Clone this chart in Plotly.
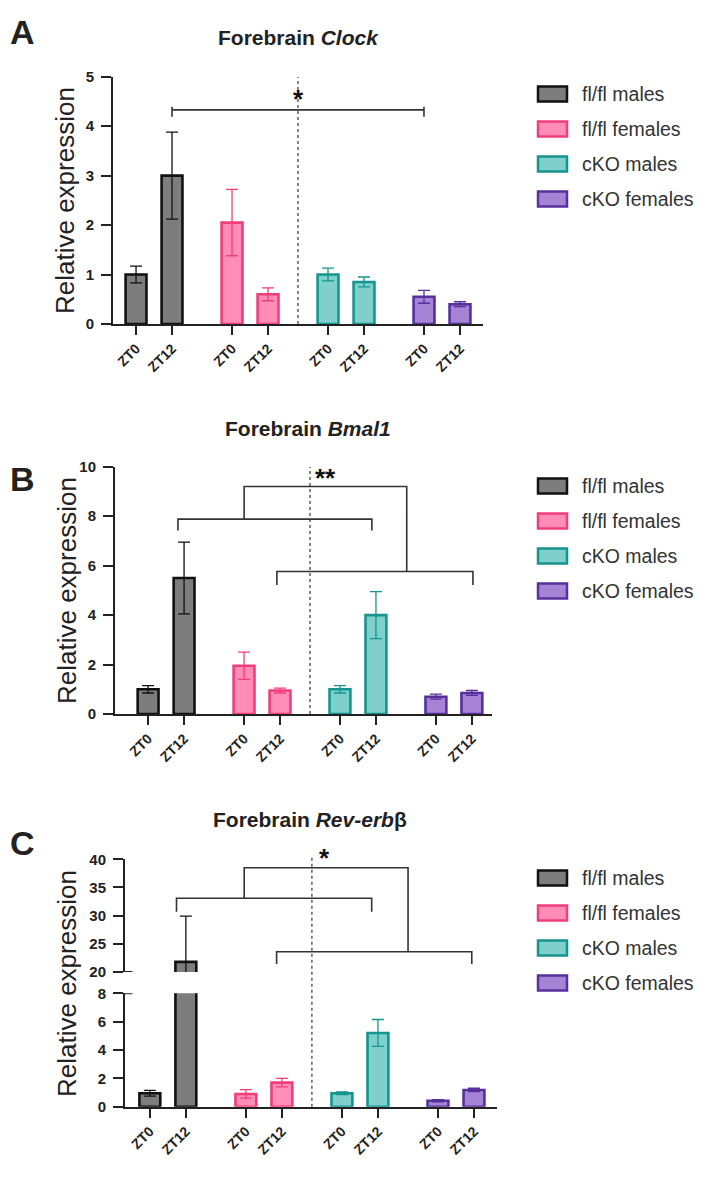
import plotly.graph_objects as go

# ---------------- data ----------------
groups = ["fl/fl males", "fl/fl females", "cKO males", "cKO females"]
timepoints = ["ZT0", "ZT12"]

clock_mean = [[1.00, 3.00], [2.05, 0.60], [1.00, 0.85], [0.55, 0.40]]
clock_err = [[0.17, 0.88], [0.67, 0.13], [0.13, 0.10], [0.13, 0.05]]

bmal1_mean = [[1.00, 5.50], [1.95, 0.95], [1.00, 4.00], [0.70, 0.85]]
bmal1_err = [[0.15, 1.45], [0.55, 0.10], [0.15, 0.95], [0.10, 0.10]]

rev_mean = [[0.95, 21.8], [0.90, 1.70], [0.95, 5.20], [0.42, 1.18]]
rev_err = [[0.20, 8.10], [0.30, 0.30], [0.10, 0.95], [0.08, 0.12]]

titles = ["<b>Forebrain <i>Clock</i></b>", "<b>Forebrain <i>Bmal1</i></b>",
          "<b>Forebrain <i>Rev-erb</i>β</b>"]
panel_letters = ["A", "B", "C"]
sig_labels = ["*", "**", "*"]
y_title = "Relative expression"

fill_colors = ["#7d7d7d", "#ff8db6", "#7fcfca", "#a584d6"]
line_colors = ["#111111", "#ee3f7a", "#14958f", "#57309c"]

FONT = "Liberation Sans, Arial, sans-serif"
W, H = 724, 1181


def px(x):
    return x / W


def py(y):
    return 1 - y / H


GROUP_STEP = 2.667


def positions(g):
    return [g * GROUP_STEP, g * GROUP_STEP + 1]


all_pos = [p for g in range(4) for p in positions(g)]
all_text = timepoints * 4

fig = go.Figure()

panels = [
    dict(mean=clock_mean, err=clock_err, xa="x", yas=["y"]),
    dict(mean=bmal1_mean, err=bmal1_err, xa="x2", yas=["y2"]),
    dict(mean=rev_mean, err=rev_err, xa="x3", yas=["y3", "y4"]),
]

for p in panels:
    for ya in p["yas"]:
        for g in range(4):
            fig.add_trace(go.Bar(
                x=positions(g), y=p["mean"][g], width=0.58,
                marker=dict(color=fill_colors[g],
                            line=dict(color=line_colors[g], width=2.6)),
                error_y=dict(type="data", array=p["err"][g], visible=True,
                             color=line_colors[g], thickness=1.3, width=6),
                xaxis=p["xa"], yaxis=ya, showlegend=False, name=groups[g],
            ))

xcommon = dict(tickvals=all_pos, ticktext=all_text, tickangle=-45,
               ticks="outside", ticklen=9, tickwidth=2, tickcolor="#222",
               showline=True, linewidth=2, linecolor="#222",
               showgrid=False, zeroline=False, automargin=False,
               tickfont=dict(family=FONT, size=14, color="#222", weight="bold"))
ycommon = dict(ticks="outside", ticklen=10, tickwidth=2, tickcolor="#222",
               showline=True, linewidth=2, linecolor="#222",
               showgrid=False, zeroline=False, ticklabelstandoff=4, automargin=False,
               tickfont=dict(family=FONT, size=15, color="#222", weight="bold"))

fig.update_layout(
    template=None,
    width=W, height=H, margin=dict(l=0, r=0, t=0, b=0, pad=0), autosize=False,
    paper_bgcolor="white", plot_bgcolor="white", barmode="overlay",
    showlegend=False, font=dict(family=FONT),
    xaxis=dict(domain=[px(113), px(483)], range=[-0.64, 9.64], anchor="y", **xcommon),
    yaxis=dict(domain=[py(324), py(76.7)], range=[0, 5], dtick=1, anchor="x", **ycommon),
    xaxis2=dict(domain=[px(115), px(492)], range=[-0.92, 9.56], anchor="y2", **xcommon),
    yaxis2=dict(domain=[py(714), py(466.7)], range=[0, 10], dtick=2, anchor="x2", **ycommon),
    xaxis3=dict(domain=[px(125), px(497)], range=[-0.69, 9.64], anchor="y3", **xcommon),
    yaxis3=dict(domain=[py(1106.7), py(993.3)], range=[0, 8], dtick=2, anchor="x3", **ycommon),
    yaxis4=dict(domain=[py(972), py(859.3)], range=[20, 40], dtick=5, anchor="x3", **ycommon),
)

shapes = []
annots = []

# dotted separators
dot = dict(color="#444", width=1.3, dash="dot")
shapes.append(dict(type="line", xref="x", yref="y", x0=4.5, x1=4.5, y0=0, y1=5, line=dot))
shapes.append(dict(type="line", xref="x2", yref="y2", x0=4.5, x1=4.5, y0=0, y1=10, line=dot))
shapes.append(dict(type="line", xref="x3", yref="paper", x0=4.5, x1=4.5,
                   y0=py(1106.7), y1=py(857), line=dot))

# significance brackets
br_line = dict(color="#333", width=1.6)


def bracket(xa, ya, x0, x1, y, yl, yr):
    shapes.append(dict(type="path", xref=xa, yref=ya,
                       path=f"M{x0},{yl} L{x0},{y} L{x1},{y} L{x1},{yr}",
                       line=br_line))


# A
shapes.append(dict(type="line", xref="x", yref="y", x0=1, x1=8, y0=4.33, y1=4.33, line=br_line))
shapes.append(dict(type="line", xref="x", yref="y", x0=1, x1=1, y0=4.39, y1=4.19, line=br_line))
shapes.append(dict(type="line", xref="x", yref="y", x0=8, x1=8, y0=4.39, y1=4.19, line=br_line))
# B
bracket("x2", "y2", 0.83, 6.22, 7.88, 7.42, 7.42)
bracket("x2", "y2", 3.58, 9.03, 5.76, 5.22, 5.22)
bracket("x2", "y2", 2.67, 7.19, 9.2, 7.88, 5.76)
# C
bracket("x3", "y4", 0.74, 6.16, 33.1, 30.7, 30.7)
bracket("x3", "y4", 3.52, 8.94, 23.6, 21.4, 21.4)
bracket("x3", "y4", 2.62, 7.17, 38.5, 33.1, 23.6)

# axis break caps in C
shapes.append(dict(type="line", xref="x3 domain", yref="y3", x0=0, x1=0.02, y0=8, y1=8,
                   line=dict(color="#222", width=2)))
shapes.append(dict(type="line", xref="x3 domain", yref="y4", x0=0, x1=0.02, y0=20, y1=20,
                   line=dict(color="#222", width=2)))

# asterisks
star_font = dict(family=FONT, size=26, color="#111", weight="bold")
annots.append(dict(x=4.5, y=4.55, xref="x", yref="y", text=sig_labels[0], showarrow=False,
                   xanchor="center", yanchor="middle", font=star_font))
annots.append(dict(x=4.93, y=9.55, xref="x2", yref="y2", text=sig_labels[1], showarrow=False,
                   xanchor="center", yanchor="middle", font=star_font))
annots.append(dict(x=4.85, y=py(858), xref="x3", yref="paper", text=sig_labels[2],
                   showarrow=False, xanchor="center", yanchor="middle", font=star_font))

# titles, letters, y titles
title_pos = [(298, 38), (308, 428), (310, 819)]
letter_pos = [(22, 32), (22, 479), (22, 843)]
ytitle_pos = [(65, 201), (67, 591), (67, 984)]
legend_top = [94, 486, 878]
for i in range(3):
    annots.append(dict(x=px(title_pos[i][0]), y=py(title_pos[i][1]), xref="paper", yref="paper",
                       text=titles[i], showarrow=False, xanchor="center", yanchor="middle",
                       font=dict(family=FONT, size=21, color="#222")))
    annots.append(dict(x=px(letter_pos[i][0]), y=py(letter_pos[i][1]), xref="paper", yref="paper",
                       text=f"<b>{panel_letters[i]}</b>", showarrow=False,
                       xanchor="center", yanchor="middle",
                       font=dict(family=FONT, size=34, color="#222")))
    annots.append(dict(x=px(ytitle_pos[i][0]), y=py(ytitle_pos[i][1]), xref="paper", yref="paper",
                       text=y_title, textangle=-90, showarrow=False,
                       xanchor="center", yanchor="middle",
                       font=dict(family=FONT, size=26, color="#222")))
    # legend
    for g in range(4):
        yc = legend_top[i] + 35 * g
        shapes.append(dict(type="rect", xref="paper", yref="paper",
                           x0=px(538), x1=px(567), y0=py(yc + 7.5), y1=py(yc - 7.5),
                           fillcolor=fill_colors[g], line=dict(color=line_colors[g], width=2.5)))
        annots.append(dict(x=px(580), y=py(yc), xref="paper", yref="paper",
                           xanchor="left", yanchor="middle",
                           text=groups[g], showarrow=False,
                           font=dict(family=FONT, size=19.5, color="#333")))

fig.update_layout(shapes=shapes, annotations=annots)
fig.write_html("out.html")
